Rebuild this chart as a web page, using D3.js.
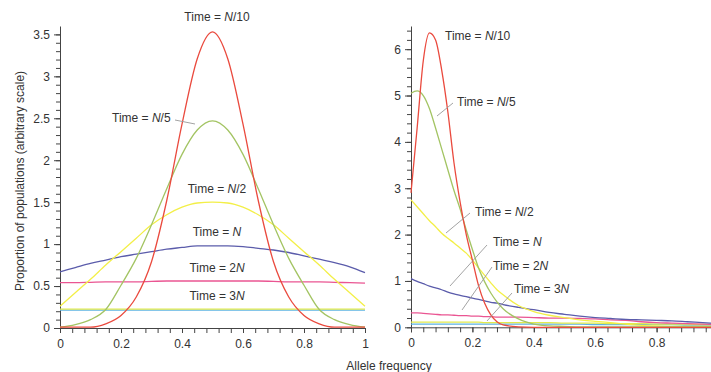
<!DOCTYPE html>
<html>
<head>
<meta charset="utf-8">
<script src="https://cdn.jsdelivr.net/npm/d3@7"></script>
<style>
  body { margin: 0; background: #fff; }
  #container { width: 711px; height: 372px; }
  text { font-family: "Liberation Sans", Arial, sans-serif; fill: #333; }
</style>
</head>
<body>
<div id="container"></div>
<script>
// left panel: symmetric start (p = 0.5)
const leftX = [0,0.05,0.1,0.15,0.2,0.25,0.3,0.35,0.4,0.45,0.5,0.55,0.6,0.65,0.7,0.75,0.8,0.85,0.9,0.95,1];
const leftN10 = [0.01,0.01,0.01,0.05,0.15,0.37,0.79,1.52,2.43,3.21,3.53,3.21,2.43,1.52,0.79,0.37,0.15,0.05,0.01,0.01,0.01];
const leftN5  = [0.01,0.04,0.10,0.22,0.51,0.83,1.23,1.66,2.07,2.36,2.47,2.36,2.07,1.66,1.23,0.83,0.51,0.22,0.10,0.04,0.01];
const leftN2  = [0.26,0.42,0.58,0.75,0.91,1.07,1.23,1.35,1.44,1.49,1.50,1.49,1.44,1.35,1.23,1.07,0.91,0.75,0.58,0.42,0.26];
const leftN   = [0.67,0.72,0.77,0.81,0.85,0.88,0.91,0.94,0.96,0.98,0.98,0.98,0.97,0.95,0.93,0.90,0.86,0.82,0.78,0.73,0.66];
const left2N  = [0.54,0.54,0.545,0.55,0.55,0.55,0.555,0.56,0.56,0.56,0.56,0.56,0.56,0.56,0.555,0.55,0.55,0.55,0.545,0.54,0.535];
const left4N  = [0.225,0.225,0.225,0.225,0.225,0.225,0.225,0.225,0.225,0.225,0.225,0.225,0.225,0.225,0.225,0.225,0.225,0.225,0.225,0.225,0.225];
const left3N  = [0.212,0.212,0.212,0.212,0.212,0.212,0.212,0.212,0.212,0.212,0.212,0.212,0.212,0.212,0.212,0.212,0.212,0.212,0.212,0.212,0.212];

// right panel: start near p = 0.07
const rightX = [0,0.02,0.04,0.06,0.08,0.1,0.12,0.14,0.16,0.18,0.2,0.22,0.24,0.26,0.28,0.3,0.35,0.4,0.45,0.5,0.55,0.6,0.65,0.7,0.75,0.8,0.85,0.9,0.95,1];
const rightN10 = [2.9,4.3,5.75,6.35,6.2,5.55,4.65,3.55,2.7,2.0,1.45,0.9,0.52,0.27,0.12,0.05,0.01,0,0,0,0,0,0,0,0,0,0,0,0,0];
const rightN5  = [5.05,5.1,5.0,4.72,4.3,3.85,3.4,2.95,2.55,2.1,1.68,1.28,0.98,0.74,0.55,0.4,0.18,0.07,0.03,0.02,0.01,0.01,0.01,0.01,0.01,0.01,0.01,0.01,0.01,0.01];
const rightN2  = [2.75,2.6,2.45,2.3,2.17,2.03,1.92,1.82,1.71,1.6,1.45,1.28,1.12,0.96,0.81,0.7,0.47,0.34,0.26,0.21,0.16,0.13,0.1,0.07,0.04,0.03,0.02,0.02,0.02,0.02];
const rightN   = [1.05,0.99,0.94,0.89,0.85,0.81,0.76,0.72,0.69,0.66,0.63,0.6,0.57,0.54,0.52,0.49,0.43,0.38,0.32,0.28,0.24,0.21,0.19,0.17,0.16,0.15,0.14,0.12,0.1,0.08];
const right2N  = [0.31,0.31,0.3,0.29,0.28,0.27,0.27,0.26,0.25,0.25,0.24,0.24,0.23,0.23,0.22,0.22,0.22,0.21,0.2,0.2,0.19,0.18,0.16,0.15,0.12,0.1,0.09,0.08,0.07,0.06];
const right4N  = [0.11,0.11,0.11,0.11,0.11,0.11,0.11,0.11,0.11,0.11,0.11,0.11,0.1,0.1,0.1,0.1,0.1,0.1,0.1,0.09,0.09,0.09,0.08,0.08,0.08,0.07,0.07,0.07,0.06,0.06];
const right3N  = [0.07,0.07,0.07,0.07,0.07,0.07,0.07,0.07,0.07,0.07,0.07,0.07,0.07,0.07,0.07,0.07,0.07,0.07,0.07,0.07,0.07,0.06,0.06,0.06,0.06,0.06,0.06,0.05,0.05,0.05];

const seriesKeys = ["3N", "4N", "2N", "N", "N/2", "N/5", "N/10"];
const seriesColors = ["#5cb3e2", "#e2ea4e", "#ea5592", "#5b5cab", "#f3ef47", "#a3c463", "#ea4a3e"];

const leftYTicks = [0, 0.5, 1, 1.5, 2, 2.5, 3, 3.5];
const rightYTicks = [0, 1, 2, 3, 4, 5, 6];
const leftXTicks = [0, 0.2, 0.4, 0.6, 0.8, 1];
const rightXTicks = [0, 0.2, 0.4, 0.6, 0.8];

// label text: [prefix, italic part, suffix]
const timeLabels = [["", "N", "/10"], ["", "N", "/5"], ["", "N", "/2"], ["", "N", ""], ["2", "N", ""], ["3", "N", ""]];

var svg;
const container = document.getElementById("container");

function initVisualization(){
    svg = d3.select(container)
            .append("svg")
            .attr("width", 711)
            .attr("height", 372);
}

function drawPanel(opt){
    let x = d3.scaleLinear().domain([0, 1]).range(opt.xr);
    let y = d3.scaleLinear().domain([0, opt.ymax]).range([opt.y0, 26]);
    let g = svg.append("g");

    // minor ticks first
    g.append("g")
        .attr("transform", `translate(${opt.xr[0]},0)`)
        .call(d3.axisLeft(y).tickValues(d3.range(0, opt.ymax, opt.yminor)).tickSize(4).tickFormat(""))
        .call(a => a.select(".domain").remove());
    g.append("g")
        .attr("transform", `translate(0,${opt.y0})`)
        .call(d3.axisBottom(x).tickValues(d3.range(0, 1.001, 0.04)).tickSize(5).tickFormat(""))
        .call(a => a.select(".domain").remove());

    g.append("g")
        .attr("transform", `translate(${opt.xr[0]},0)`)
        .call(d3.axisLeft(y).tickValues(opt.yticks).tickSize(6).tickSizeOuter(0).tickPadding(4).tickFormat(d => String(d)))
        .call(a => a.selectAll("text").style("font-size", "12px"));
    g.append("g")
        .attr("transform", `translate(0,${opt.y0})`)
        .call(d3.axisBottom(x).tickValues(opt.xticks).tickSize(5).tickSizeOuter(0).tickPadding(6).tickFormat(d => String(d)))
        .call(a => a.selectAll("text").style("font-size", "12px"));
    g.selectAll(".domain, .tick line").attr("stroke", "#444");

    let line = d3.line()
        .x((d) => x(d[0]))
        .y((d) => y(d[1]))
        .curve(d3.curveMonotoneX);

    opt.series.forEach((vals, i) => {
        g.append("path")
            .datum(opt.xs.map((v, j) => [v, vals[j]]))
            .attr("fill", "none")
            .attr("stroke", seriesColors[i])
            .attr("stroke-width", 1.3)
            .attr("d", line);
    });
}

function addLabel(lab, px, py, anchor){
    let t = svg.append("text")
        .attr("x", px).attr("y", py)
        .attr("text-anchor", anchor)
        .style("font-size", "12px");
    t.append("tspan").text("Time = " + lab[0]);
    t.append("tspan").style("font-style", "italic").text(lab[1]);
    t.append("tspan").text(lab[2]);
}

function leader(x1, y1, x2, y2){
    svg.append("line")
        .attr("x1", x1).attr("y1", y1).attr("x2", x2).attr("y2", y2)
        .attr("stroke", "#999").attr("stroke-width", 0.9);
}

function showChart(){
    initVisualization();

    drawPanel({xr: [60, 365], y0: 328, ymax: 3.6, yminor: 0.1, yticks: leftYTicks, xticks: leftXTicks,
        xs: leftX, series: [left3N, left4N, left2N, leftN, leftN2, leftN5, leftN10]});
    drawPanel({xr: [411, 718], y0: 327.3, ymax: 6.5, yminor: 0.2, yticks: rightYTicks, xticks: rightXTicks,
        xs: rightX, series: [right3N, right4N, right2N, rightN, rightN2, rightN5, rightN10]});

    // left panel labels
    addLabel(timeLabels[0], 217, 21, "middle");
    addLabel(timeLabels[1], 112, 122, "start");
    leader(175, 120, 195, 124);
    addLabel(timeLabels[2], 217, 193, "middle");
    addLabel(timeLabels[3], 217, 236, "middle");
    addLabel(timeLabels[4], 217, 272, "middle");
    addLabel(timeLabels[5], 217, 300, "middle");

    // right panel labels
    addLabel(timeLabels[0], 445, 40, "start");
    addLabel(timeLabels[1], 457, 106, "start");
    leader(437, 116, 453, 103);
    addLabel(timeLabels[2], 475, 216, "start");
    leader(446, 233, 470, 213);
    addLabel(timeLabels[3], 493, 246, "start");
    leader(450, 286, 487, 245);
    addLabel(timeLabels[4], 493, 270, "start");
    leader(462, 310, 492, 267);
    addLabel(timeLabels[5], 514, 293, "start");
    leader(487, 321, 512, 293);

    svg.append("text")
        .attr("transform", "translate(24,181) rotate(-90)")
        .attr("text-anchor", "middle")
        .style("font-size", "12px")
        .text("Proportion of populations (arbitrary scale)");
    svg.append("text")
        .attr("x", 389).attr("y", 370)
        .attr("text-anchor", "middle")
        .style("font-size", "12px")
        .text("Allele frequency");
}

showChart();
</script>
</body>
</html>
